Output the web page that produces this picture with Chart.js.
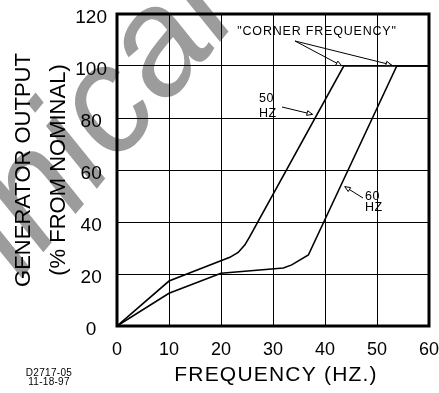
<!DOCTYPE html>
<html>
<head>
<meta charset="utf-8">
<script src="https://cdn.jsdelivr.net/npm/chart.js@4/dist/chart.umd.min.js"></script>
<style>
  html, body { margin: 0; padding: 0; background: #fff; }
</style>
</head>
<body>
<canvas id="genChart" width="439" height="393"></canvas>
<script>
// values
var freq50 = [0, 10, 21.7, 23.3, 24.6, 25.5, 43.6, 60];
var out50  = [0, 17.3, 26.4, 28.3, 31.2, 34.3, 100, 100];
var freq60 = [0, 10, 20, 32, 33.6, 36.8, 53.8, 60];
var out60  = [0, 12.6, 20.3, 22.3, 23.5, 27.3, 100, 100];
var xTicks = [0, 10, 20, 30, 40, 50, 60];
var yTicks = [0, 20, 40, 60, 80, 100, 120];

var FONT = '"Liberation Sans", Arial, Helvetica, sans-serif';

function toPoints(xs, ys) {
  return xs.map(function (x, i) { return { x: x, y: ys[i] }; });
}

function arrow(ctx, x1, y1, x2, y2) {
  var a = Math.atan2(y2 - y1, x2 - x1), h = 6, s = 0.4;
  ctx.beginPath();
  ctx.moveTo(x1, y1);
  ctx.lineTo(x2, y2);
  ctx.stroke();
  ctx.beginPath();
  ctx.moveTo(x2 - h * Math.cos(a - s), y2 - h * Math.sin(a - s));
  ctx.lineTo(x2, y2);
  ctx.lineTo(x2 - h * Math.cos(a + s), y2 - h * Math.sin(a + s));
  ctx.closePath();
  ctx.fillStyle = '#fff';
  ctx.fill();
  ctx.stroke();
}

var watermark = {
  id: 'watermark',
  beforeDraw: function (chart) {
    var ctx = chart.ctx;
    ctx.save();
    ctx.translate(240, 18);
    ctx.rotate(-50 * Math.PI / 180);
    ctx.font = 'italic 150px ' + FONT;
    ctx.fillStyle = '#9c9c9c';
    ctx.textAlign = 'right';
    ctx.textBaseline = 'alphabetic';
    ctx.fillText('Technical', 0, 0);
    ctx.restore();
  }
};

var decorations = {
  id: 'decorations',
  afterDraw: function (chart) {
    var ctx = chart.ctx, a = chart.chartArea;
    var xs = chart.scales.x, ys = chart.scales.y;
    function px(v) { return xs.getPixelForValue(v); }
    function py(v) { return ys.getPixelForValue(v); }

    ctx.save();
    // heavy frame
    ctx.strokeStyle = '#000';
    ctx.lineWidth = 3;
    ctx.strokeRect(a.left, a.top, a.right - a.left, a.bottom - a.top);

    // axis titles
    ctx.fillStyle = '#000';
    ctx.textAlign = 'center';
    ctx.textBaseline = 'middle';
    ctx.font = '22px ' + FONT;
    var cy = (a.top + a.bottom) / 2;
    ctx.save();
    ctx.translate(24, cy);
    ctx.rotate(-Math.PI / 2);
    ctx.fillText('GENERATOR OUTPUT', 0, 0);
    ctx.restore();
    ctx.save();
    ctx.translate(59, cy);
    ctx.rotate(-Math.PI / 2);
    ctx.fillText('(% FROM NOMINAL)', 0, 0);
    ctx.restore();

    ctx.font = '21px ' + FONT;
    ctx.letterSpacing = '1.2px';
    ctx.fillText('FREQUENCY (HZ.)', (a.left + a.right) / 2 + 3, 375);

    ctx.font = '10px ' + FONT;
    ctx.letterSpacing = '0.3px';
    ctx.fillText('D2717-05', 49, 373);
    ctx.fillText('11-18-97', 49, 382);

    // callouts
    ctx.font = '12.5px ' + FONT;
    ctx.letterSpacing = '0.8px';
    ctx.fillText('"CORNER FREQUENCY"', 317, 32);
    ctx.textAlign = 'left';
    ctx.letterSpacing = '0.5px';
    ctx.fillText('50', 259, 99);
    ctx.fillText('HZ', 259, 114);
    ctx.fillText('60', 365, 197);
    ctx.fillText('HZ', 365, 208);

    ctx.lineWidth = 1;
    ctx.strokeStyle = '#000';
    arrow(ctx, 295, 41, px(43.2), py(100.1));
    arrow(ctx, 295, 41, px(52.8), py(100.4));
    arrow(ctx, 282, 107, px(37.6), py(81.4));
    arrow(ctx, 363, 198, px(43.8), py(53.6));
    ctx.restore();
  }
};

var ctx = document.getElementById('genChart').getContext('2d');
new Chart(ctx, {
  type: 'scatter',
  data: {
    datasets: [
      { label: '50 HZ', data: toPoints(freq50, out50), showLine: true,
        borderColor: '#000', borderWidth: 1.6, pointRadius: 0, fill: false },
      { label: '60 HZ', data: toPoints(freq60, out60), showLine: true,
        borderColor: '#000', borderWidth: 1.6, pointRadius: 0, fill: false }
    ]
  },
  options: {
    responsive: false,
    animation: false,
    events: [],
    layout: { padding: { left: 67, right: 10, top: 14, bottom: 37 } },
    plugins: { legend: { display: false }, tooltip: { enabled: false } },
    scales: {
      x: {
        type: 'linear', min: 0, max: 60,
        afterBuildTicks: function (s) { s.ticks = xTicks.map(function (v) { return { value: v }; }); },
        afterFit: function (s) { s.height = 30; s.paddingLeft = 0; s.paddingRight = 0; },
        grid: { color: '#000', lineWidth: 1, drawTicks: false },
        border: { display: false },
        ticks: { color: '#000', font: { family: FONT, size: 18 }, padding: 13, maxRotation: 0 }
      },
      y: {
        type: 'linear', min: 0, max: 120,
        afterBuildTicks: function (s) { s.ticks = yTicks.map(function (v) { return { value: v }; }); },
        afterFit: function (s) { s.width = 50; s.paddingTop = 0; s.paddingBottom = 0; },
        grid: { color: '#000', lineWidth: 1, drawTicks: false },
        border: { display: false },
        ticks: { color: '#000', font: { family: FONT, size: 19 }, padding: 10,
                 crossAlign: 'center', labelOffset: 4 }
      }
    }
  },
  plugins: [watermark, decorations]
});
</script>
</body>
</html>
